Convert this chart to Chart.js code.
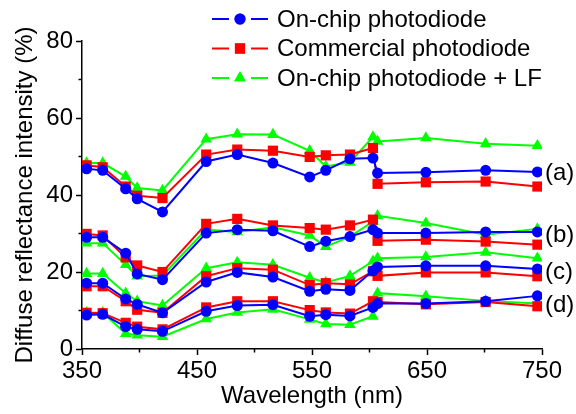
<!DOCTYPE html>
<html>
<head>
<meta charset="utf-8">
<script src="https://cdn.jsdelivr.net/npm/chart.js@4/dist/chart.umd.min.js"></script>
<style>
  html, body { margin: 0; padding: 0; background: #fff; }
  #wrap { width: 576px; height: 414px; position: relative; }
</style>
</head>
<body>
<div id="wrap"><canvas id="drChart" width="576" height="414"></canvas></div>
<script>
// wavelengths (nm) of the measured points
const wavelengths = [354, 368, 388, 398, 420, 458, 485, 516, 548, 562, 583, 603, 607, 649, 701, 746];

// group (a)
const onChipA     = [46.8, 46.4, 41.6, 39.0, 35.6, 48.7, 50.5, 48.3, 44.7, 46.4, 49.4, 49.6, 45.7, 45.9, 46.4, 46.0];
const commercialA = [47.7, 47.2, 42.2, 39.8, 39.2, 50.5, 51.8, 51.5, 49.9, 50.3, 50.5, 52.2, 42.9, 43.3, 43.5, 42.2];
const onChipLfA   = [48.3, 48.3, 44.8, 41.8, 41.2, 54.5, 55.8, 55.7, 51.5, 47.4, 48.5, 55.1, 53.9, 54.8, 53.3, 52.8];
// group (b)
const onChipB     = [29.0, 29.0, 24.9, 19.5, 18.0, 30.1, 31.0, 30.7, 26.6, 28.0, 29.2, 31.0, 30.1, 30.1, 30.4, 30.4];
const commercialB = [29.9, 29.5, 23.8, 21.7, 20.0, 32.5, 33.8, 32.1, 31.4, 31.0, 32.1, 33.6, 28.1, 28.4, 27.9, 27.1];
const onChipLfB   = [27.5, 27.5, 21.9, 18.9, 19.1, 31.0, 30.4, 31.6, 29.5, 26.6, 29.2, 33.1, 34.6, 32.7, 29.7, 31.2];
// group (c)
const onChipC     = [17.1, 17.1, 13.0, 11.6, 9.4, 17.4, 19.9, 18.7, 15.0, 15.5, 15.2, 20.3, 21.3, 21.6, 21.6, 20.8];
const commercialC = [16.3, 16.3, 12.4, 10.2, 9.4, 18.9, 21.0, 20.6, 16.6, 17.1, 16.8, 20.2, 19.0, 19.9, 19.9, 18.9];
const onChipLfC   = [19.6, 19.6, 14.5, 12.4, 11.3, 21.0, 22.5, 21.9, 18.5, 17.3, 19.0, 22.8, 23.6, 23.9, 25.1, 23.6];
// group (d)
const onChipD     = [8.8, 9.0, 5.8, 5.1, 4.6, 9.8, 11.3, 11.5, 8.5, 8.9, 8.6, 10.8, 11.8, 11.8, 12.4, 13.8];
const commercialD = [9.4, 9.3, 6.8, 5.8, 5.1, 10.8, 12.4, 12.4, 10.1, 9.5, 9.2, 12.4, 12.2, 11.6, 12.2, 11.1];
const onChipLfD   = [9.4, 9.4, 4.0, 3.6, 3.2, 7.8, 9.5, 10.3, 7.7, 6.5, 6.3, 8.5, 14.5, 13.7, 12.5, 11.8];

const seriesNames = ["On-chip photodiode", "Commercial photodiode", "On-chip photodiode + LF"];
const groupLabels = ["(a)", "(b)", "(c)", "(d)"];
const groupLabelValues = [45.8, 29.8, 20.2, 11.5];

const xTicks = [350, 450, 550, 650, 750];
const xMinorTicks = [400, 500, 600, 700];
const yTicks = [0, 20, 40, 60, 80];
const yMinorTicks = [10, 30, 50, 70];

const FONT = "Arial, 'Liberation Sans', sans-serif";
const styles = [
  { color: "#0000ff", pointStyle: "circle", radius: 5.5 },
  { color: "#ff0000", pointStyle: "rect", radius: 7.2 },
  { color: "#00ff00", pointStyle: "triangle", radius: 6.7 }
];

const groups = [
  [onChipA, commercialA, onChipLfA],
  [onChipB, commercialB, onChipLfB],
  [onChipC, commercialC, onChipLfC],
  [onChipD, commercialD, onChipLfD]
];

// blue first, then red, then green so green ends up on top
const datasets = [];
groups.forEach((grp, g) => {
  grp.forEach((values, s) => {
    const st = styles[s];
    datasets.push({
      label: seriesNames[s] + " " + groupLabels[g],
      data: wavelengths.map((w, i) => ({ x: w, y: values[i] })),
      borderColor: st.color,
      backgroundColor: st.color,
      borderWidth: 2,
      pointStyle: st.pointStyle,
      pointRadius: st.radius,
      pointBorderWidth: 0,
      tension: 0
    });
  });
});

// legend with line-marker-line swatches, plus (a)-(d) labels and minor ticks
const extrasPlugin = {
  id: "extras",
  afterDraw(chart) {
    const ctx = chart.ctx;
    const xs = chart.scales.x;
    const ys = chart.scales.y;
    ctx.save();

    // minor ticks
    ctx.strokeStyle = "#000";
    ctx.lineWidth = 1.5;
    xMinorTicks.forEach(v => {
      const px = xs.getPixelForValue(v);
      ctx.beginPath();
      ctx.moveTo(px, ys.bottom);
      ctx.lineTo(px, ys.bottom + 3.5);
      ctx.stroke();
    });
    yMinorTicks.forEach(v => {
      const py = ys.getPixelForValue(v);
      ctx.beginPath();
      ctx.moveTo(xs.left, py);
      ctx.lineTo(xs.left - 3.5, py);
      ctx.stroke();
    });

    // legend
    const legX = 212, legY = 19, legStep = 29.5, legLen = 56;
    ctx.font = "24px " + FONT;
    ctx.textBaseline = "middle";
    ctx.textAlign = "left";
    seriesNames.forEach((name, i) => {
      const st = styles[i];
      const y = legY + i * legStep;
      const mid = legX + legLen / 2;
      ctx.strokeStyle = st.color;
      ctx.lineWidth = 2;
      ctx.beginPath();
      ctx.moveTo(legX, y);
      ctx.lineTo(mid - 11, y);
      ctx.moveTo(mid + 11, y);
      ctx.lineTo(legX + legLen, y);
      ctx.stroke();
      ctx.fillStyle = st.color;
      Chart.helpers.drawPoint(ctx, { pointStyle: st.pointStyle, radius: st.radius, borderWidth: 0 }, mid, y);
      ctx.fill();
      ctx.fillStyle = "#000";
      ctx.fillText(name, legX + legLen + 9, y + 1);
    });

    // group labels
    groupLabels.forEach((lab, i) => {
      ctx.fillText(lab, xs.right + 3, ys.getPixelForValue(groupLabelValues[i]) + 1);
    });
    ctx.restore();
  }
};

new Chart(document.getElementById("drChart"), {
  type: "line",
  data: { datasets },
  options: {
    responsive: false,
    animation: false,
    layout: { padding: { left: 0, right: 34, top: 41, bottom: 0 } },
    plugins: { legend: { display: false }, tooltip: { enabled: false } },
    scales: {
      x: {
        type: "linear",
        min: 350,
        max: 750,
        afterBuildTicks: s => { s.ticks = xTicks.map(v => ({ value: v })); },
        afterFit: s => { s.height = 65; },
        border: { color: "#000", width: 1.5 },
        grid: { drawOnChartArea: false, tickLength: 6, tickColor: "#000", tickWidth: 1.5 },
        ticks: { color: "#000", font: { family: FONT, size: 24 }, padding: 2, maxRotation: 0 },
        title: { display: true, text: "Wavelength (nm)", color: "#000", font: { family: FONT, size: 24 }, padding: { top: 0, bottom: 3 } }
      },
      y: {
        min: 0,
        max: 80,
        afterBuildTicks: s => { s.ticks = yTicks.map(v => ({ value: v })); },
        afterFit: s => { s.width = 82; },
        border: { color: "#000", width: 1.5 },
        grid: { drawOnChartArea: false, tickLength: 6, tickColor: "#000", tickWidth: 1.5 },
        ticks: { color: "#000", font: { family: FONT, size: 24 }, padding: 3 },
        title: { display: true, text: "Diffuse reflectance intensity (%)", color: "#000", font: { family: FONT, size: 24 }, padding: { top: 11, bottom: 0 } }
      }
    }
  },
  plugins: [extrasPlugin]
});
</script>
</body>
</html>
